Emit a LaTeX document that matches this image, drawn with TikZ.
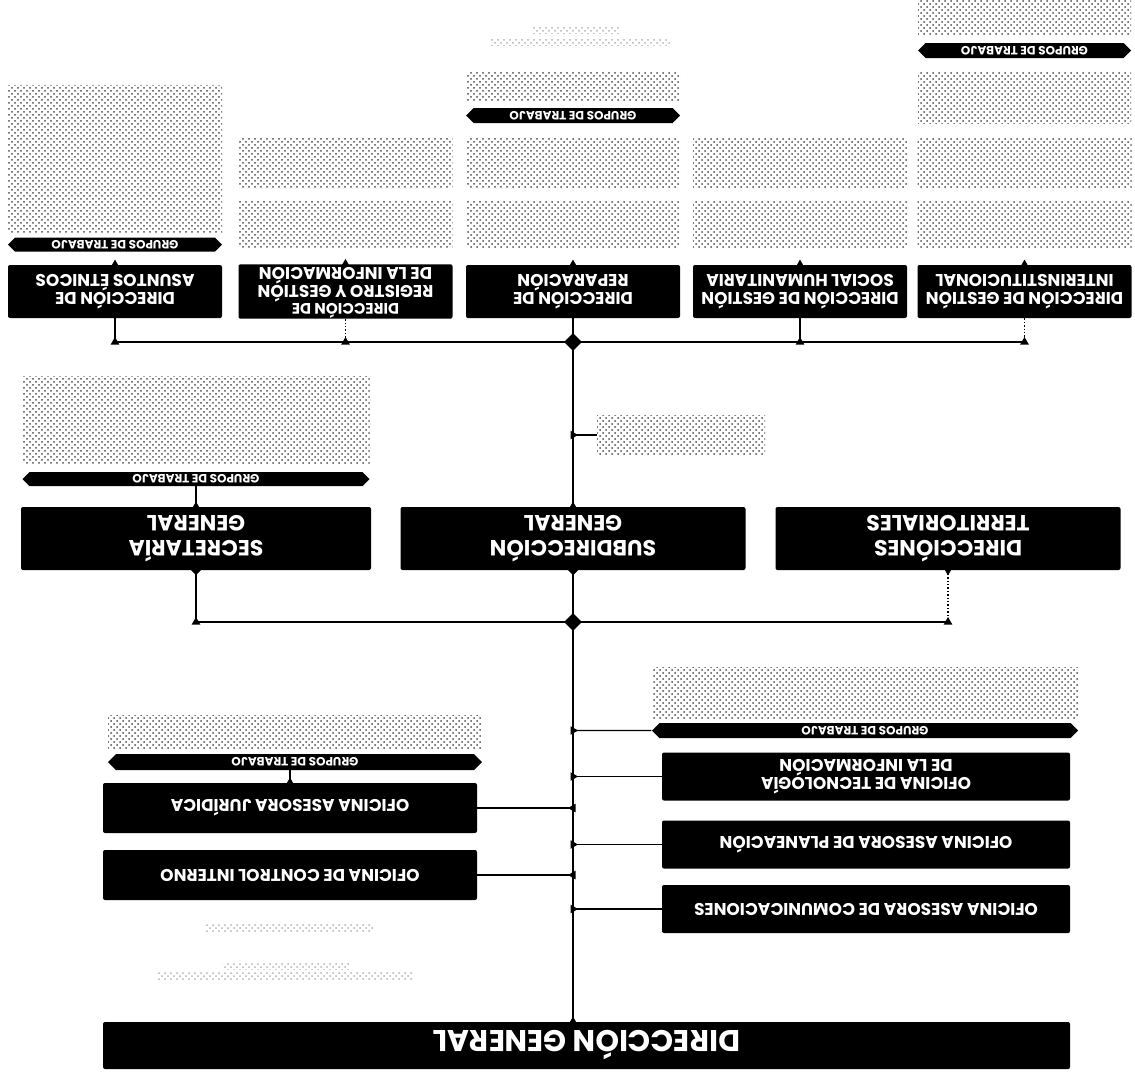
\documentclass[tikz,border=0pt]{standalone}
\usepackage{fontspec}
\setmainfont{Poppins}
\usepackage{tikz}
\usetikzlibrary{shapes.geometric,shapes.symbols,patterns,calc}

\tikzset{
  dim/.style 2 args={minimum width=#1*0.5pt, minimum height=#2*0.5pt},
  caja/.style={fill=black, text=white, align=center, inner sep=0pt, rotate=180,
    rounded corners=1pt, font=\bfseries\fontsize{8.5}{9}\selectfont},
  grupo/.style={signal, signal to=east and west, fill=black, text=white, inner sep=0pt,
    rotate=180, font=\bfseries\fontsize{6}{6}\selectfont},
  bloque/.style={pattern=crosshatch dots, pattern color=black!70, inner sep=0pt, rotate=180},
  tenue/.style={pattern=crosshatch dots, pattern color=black!30, inner sep=0pt},
  linea/.style={line width=0.7pt},
  tronco/.style={line width=1pt},
  marca/.style={fill=black, regular polygon, regular polygon sides=3, inner sep=0pt, minimum size=5pt},
  rombo/.style={fill=black, diamond, inner sep=0pt, minimum size=#1},
  rombo/.default=5pt
}

\begin{document}
\begin{tikzpicture}[x=0.5pt, y=-0.5pt]
%Das Organigramm steht auf dem Kopf: alle Texte werden um 180 Grad gedreht.
\useasboundingbox (0,0) rectangle (1135,1072);
  \pgfmathsetmacro{\xT}{573}
  \coordinate (j1) at (\xT,342);
  \coordinate (j2) at (\xT,622);

%Erste Reihe: Direcciones
\foreach \n/\x/\txt in {b1/115/{DIRECCIÓN DE\\ASUNTOS ÉTNICOS},
    b2/345.5/{\fontsize{7.6}{7.4}\selectfont DIRECCIÓN DE\\REGISTRO Y GESTIÓN\\DE LA INFORMACIÓN\rule[-1.8pt]{0pt}{0pt}},
    b3/\xT/{DIRECCIÓN DE\\REPARACIÓN},
    b4/800/{DIRECCIÓN DE GESTIÓN\\SOCIAL HUMANITARIA},
    b5/1024.5/{DIRECCIÓN DE GESTIÓN\\INTERINSTITUCIONAL}}{
  \node[caja, dim={214}{53}] (\n) at (\x,291.5) {\txt};
}
\foreach \n/\x in {b2/345.5, b3/\xT, b4/800, b5/1024.5}{
  \node[bloque, dim={214}{50}] (t1\n) at (\x,163) {};
  \node[bloque, dim={214}{47}] (t2\n) at (\x,223.5) {};
}
\node[bloque, dim={214}{147}] (t1b1) at (115,158.5) {};
\node[grupo, dim={214}{14}] (g1) at (115,244.5) {GRUPOS DE TRABAJO};
\node[bloque, dim={214}{28}] (t3b3) at (\xT,86) {};
\node[grupo, dim={214}{15}] (g3) at (\xT,115.5) {GRUPOS DE TRABAJO};
\node[bloque, dim={213}{51}] (t3b5) at (1024.5,97.5) {};
\node[grupo, dim={213}{15}] (g5) at (1024.5,50.5) {GRUPOS DE TRABAJO};
\node[bloque, dim={213}{35}] (t4b5) at (1024.5,17.5) {};
\node[tenue, dim={88}{7}] (cab1) at (576,30) {};
\node[tenue, dim={180}{7}] (cab2) at (580,42) {};

%Zweite Reihe
\node[caja, dim={350}{63}, font=\bfseries\fontsize{11}{12.5}\selectfont] (sek) at (196,538.5) {SECRETARÍA\\GENERAL};
\node[caja, dim={345}{63}, font=\bfseries\fontsize{11}{12.5}\selectfont] (sub) at (\xT,538.5) {SUBDIRECCIÓN\\GENERAL};
\node[caja, dim={345}{63}, font=\bfseries\fontsize{11}{12.5}\selectfont] (ter) at (948,538.5) {DIRECCIÓNES\\TERRITORIALES};
\node[bloque, dim={347}{88}] (t1sek) at (196,420) {};
\node[grupo, dim={347}{14}] (gsek) at (196,479) {GRUPOS DE TRABAJO};
\node[bloque, dim={168}{40}] (nsub) at (681,435) {};

%Oficinas
\node[bloque, dim={426}{51}] (t1gr) at (865,692.5) {};
\node[grupo, dim={426}{15}] (gr) at (865,730.5) {GRUPOS DE TRABAJO};
\foreach \n/\y/\txt in {tec/776.5/{OFICINA DE TECNOLOGÍA\\DE LA INFORMACIÓN},
    pla/844.5/{OFICINA ASESORA DE PLANEACIÓN},
    com/909/{OFICINA ASESORA DE COMUNICACIONES}}{
  \node[caja, dim={408}{48}] (\n) at (866,\y) {\txt};
}
\node[bloque, dim={374}{33}] (t1gl) at (295,731.5) {};
\node[grupo, dim={374}{16}] (gl) at (295,762) {GRUPOS DE TRABAJO};
\node[caja, dim={374}{50}] (jur) at (290,808) {OFICINA ASESORA JURÍDICA};
\node[caja, dim={374}{50}] (ctl) at (290,875) {OFICINA DE CONTROL INTERNO};
\node[tenue, dim={168}{8}] (kom1) at (289,927) {};
\node[tenue, dim={127}{6}] (kom2) at (286,966) {};
\node[tenue, dim={255}{7}] (kom3) at (285,976) {};

\node[caja, dim={967}{47}, font=\bfseries\fontsize{15}{16}\selectfont] (dg) at (586.5,1045.5) {DIRECCIÓN GENERAL};

%Verbindungen
\draw[tronco] (j2 |- dg.south) -- (j2) -- (sub);
\draw[tronco] (sub) -- (j1) -- (b3);
\draw[linea] (b1 |- j1) -- (b5 |- j1);
\foreach \n in {b1,b4}
  \draw[linea] (\n) -- (\n |- j1);
\foreach \n in {b2,b5}
  \draw[linea, densely dotted] (\n) -- (\n |- j1);
\draw[linea] (sek |- j2) -- (ter |- j2);
\draw[linea] (sek) -- (sek |- j2);
\draw[linea, densely dotted] (ter) -- (ter |- j2);
\draw[linea] (sek.south) -- (sek.south |- gsek.north);
\draw[linea] (jur.south) -- (jur.south |- gl.north);
\draw[linea] (j1 |- nsub) -- (nsub);
\foreach \n in {gr,tec,pla,com}
  \draw[linea] (j2 |- \n) -- (\n);
\foreach \n in {jur,ctl}
  \draw[linea] (\n) -- (j2 |- \n);

%Markierungen
\foreach \n in {b1,b2,b4,b5}
  \node[marca] (m\n) at (\n |- j1) {};
\foreach \n in {b1,b2,b3,b4,b5,sek,sub,jur}
  \node[marca] (s\n) at (\n.south) {};
\node[marca] (msek) at (sek |- j2) {};
\node[marca] (mter) at (ter |- j2) {};
\node[marca] (mdg) at (j2 |- dg.south) {};
\node[marca, rotate=180] (nter) at (ter.north) {};
\node[rombo] (nsek) at (sek.north) {};
\node[rombo] (nsubr) at (sub.north) {};
\node[rombo=9pt] (r1) at (j1) {};
\node[rombo=9pt] (r2) at (j2) {};
\foreach \n in {gr,tec,pla,com,nsub}
  \node[marca, rotate=-90] (d\n) at (j2 |- \n) {};
\foreach \n in {jur,ctl}
  \node[marca, rotate=90] (i\n) at (j2 |- \n) {};
\end{tikzpicture}
\end{document}
